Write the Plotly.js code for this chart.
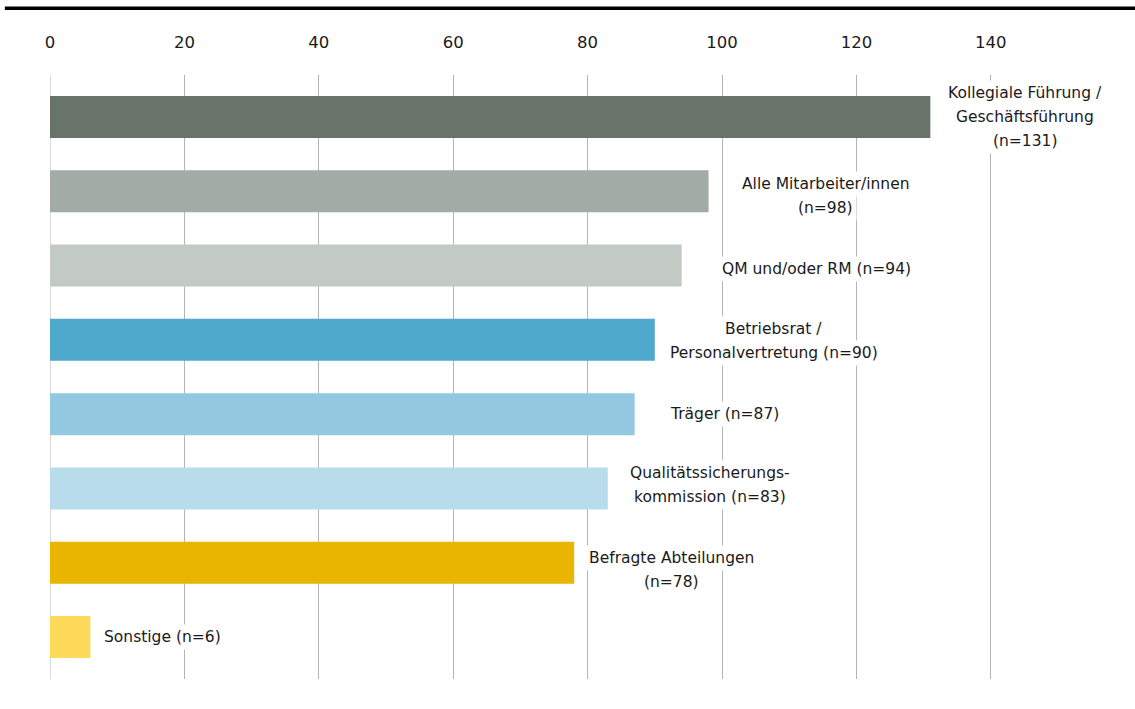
<!DOCTYPE html>
<html>
<head>
<meta charset="utf-8">
<script src="https://cdn.plot.ly/plotly-3.0.1.min.js"></script>
<style>
html,body{margin:0;padding:0;background:#fff;}
#chart{width:1135px;height:709px;}
</style>
</head>
<body>
<div id="chart"></div>
<script>
// Data
var categories = [
  "Kollegiale Führung / Geschäftsführung",
  "Alle Mitarbeiter/innen",
  "QM und/oder RM",
  "Betriebsrat / Personalvertretung",
  "Träger",
  "Qualitätssicherungskommission",
  "Befragte Abteilungen",
  "Sonstige"
];
var values = [131, 98, 94, 90, 87, 83, 78, 6];
var labelLines = [
  ["Kollegiale Führung /", "Geschäftsführung", "(n=131)"],
  ["Alle Mitarbeiter/innen", "(n=98)"],
  ["QM und/oder RM (n=94)"],
  ["Betriebsrat /", "Personalvertretung (n=90)"],
  ["Träger (n=87)"],
  ["Qualitätssicherungs-", "kommission (n=83)"],
  ["Befragte Abteilungen", "(n=78)"],
  ["Sonstige (n=6)"]
];
var tickValues = [0, 20, 40, 60, 80, 100, 120, 140];

// Styles / layout config
var colors = ["#68736a", "#a2aba6", "#c3c9c4", "#4fa9cc", "#92c9e0", "#b8dceb", "#e9b500", "#ffd95a"];
var labelCenterOffsetPx = [95, 117, 135, 119, 90, 102, 97, 72];
var labelDownPx = [0, 5, 3.5, 1, 0, -3, 7, 0];
var lineGapPx = 24;
var FONT = "DejaVu Sans, Verdana, sans-serif";
var GRID = "#b5b5b5";

var trace = {
  type: "bar",
  orientation: "h",
  x: values,
  y: categories,
  marker: {color: colors, line: {width: 0}},
  width: 0.565,
  hoverinfo: "x+y"
};

var annotations = [];
labelLines.forEach(function(lines, i) {
  var n = lines.length;
  lines.forEach(function(line, j) {
    annotations.push({
      x: values[i], y: categories[i], xref: "x", yref: "y",
      text: line,
      showarrow: false,
      xanchor: "center", yanchor: "middle",
      xshift: labelCenterOffsetPx[i],
      yshift: -((j - (n - 1) / 2) * lineGapPx) - labelDownPx[i],
      font: {family: FONT, size: 15.5, color: "#1a1a1a"},
      bgcolor: "#ffffff",
      borderpad: 3
    });
  });
});

var layout = {
  width: 1135, height: 709,
  margin: {l: 50, r: 35, t: 75, b: 30},
  paper_bgcolor: "#ffffff",
  plot_bgcolor: "#ffffff",
  showlegend: false,
  xaxis: {
    side: "top",
    range: [0, 156.25],
    tickvals: tickValues,
    ticktext: tickValues.map(String),
    showgrid: true,
    gridcolor: GRID,
    gridwidth: 1,
    zeroline: false,
    showline: false,
    ticks: "",
    ticklabelstandoff: 23,
    tickfont: {family: FONT, size: 16.5, color: "#1a1a1a"},
    fixedrange: true
  },
  yaxis: {
    type: "category",
    range: [7.565, -0.565],
    showticklabels: false,
    showgrid: false,
    zeroline: false,
    showline: false,
    ticks: "",
    fixedrange: true
  },
  shapes: [
    {
      type: "line", xref: "paper", yref: "paper",
      x0: -0.043, x1: 1.04, y0: 1.1105, y1: 1.1105,
      line: {color: "#000000", width: 3.3}
    },
    {
      type: "line", xref: "x", yref: "paper", layer: "below",
      x0: 0, x1: 0, y0: 0, y1: 1,
      line: {color: GRID, width: 1}
    }
  ],
  annotations: annotations
};

Plotly.newPlot("chart", [trace], layout, {displayModeBar: false, staticPlot: true});
</script>
</body>
</html>
